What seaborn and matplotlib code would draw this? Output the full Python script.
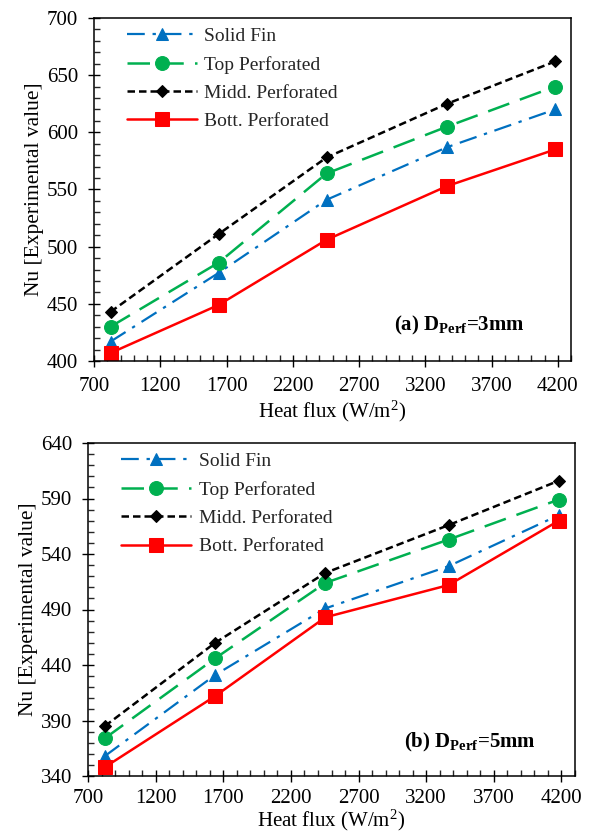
import matplotlib
matplotlib.use("Agg")
import matplotlib.pyplot as plt
from matplotlib.ticker import MultipleLocator
import seaborn as sns
import pandas as pd

# Heat flux levels (W/m^2)
heat_flux = [825, 1640, 2455, 3365, 4180]

# (a) perforation diameter 3 mm
nu_3mm_solid = [417, 477, 541, 587, 620]
nu_3mm_top = [430, 486, 564, 605, 640]
nu_3mm_midd = [443, 511, 578, 625, 662]
nu_3mm_bott = [407, 449, 506, 553, 585]

# (b) perforation diameter 5 mm
nu_5mm_solid = [358, 431, 491, 529, 575]
nu_5mm_top = [374, 446, 514, 553, 589]
nu_5mm_midd = [385, 460, 523, 566, 606]
nu_5mm_bott = [348, 412, 483, 512, 570]

series_names = ["Solid Fin", "Top Perforated", "Midd. Perforated", "Bott. Perforated"]
panel_tags = [r"(a) $\mathbf{D_{Perf}}$=3mm", r"(b) $\mathbf{D_{Perf}}$=5mm"]
y_ticks = [list(range(400, 701, 50)), list(range(340, 641, 50))]
x_ticks = list(range(700, 4201, 500))

sns.set_theme(style="white")
plt.rcParams["font.family"] = ["Liberation Serif", "DejaVu Serif"]
plt.rcParams["mathtext.fontset"] = "custom"
plt.rcParams["mathtext.rm"] = "Liberation Serif"
plt.rcParams["mathtext.it"] = "Liberation Serif:italic"
plt.rcParams["mathtext.bf"] = "Liberation Serif:bold"

styles = {
    "Solid Fin": dict(color="#0070C0", marker="^", markersize=8.5, lw=1.6,
                      linestyle=(0, (8, 3.5, 1.5, 3.5))),
    "Top Perforated": dict(color="#00B050", marker="o", markersize=10, lw=1.8,
                           linestyle=(0, (9, 4.5))),
    "Midd. Perforated": dict(color="black", marker="D", markersize=6, lw=1.8,
                             linestyle=(0, (3, 1.6))),
    "Bott. Perforated": dict(color="#FF0000", marker="s", markersize=10, lw=1.8,
                             linestyle="-"),
}

fig = plt.figure(figsize=(5.91, 8.33), dpi=100)
W, H = 591, 833
ax_a = fig.add_axes([94 / W, 1 - 361 / H, (571 - 94) / W, (361 - 18) / H])
ax_b = fig.add_axes([88 / W, 1 - 776 / H, (575 - 88) / W, (776 - 443) / H])

# axes, series values, tag position, x tick pad, x label pad
panels = [
    (ax_a, [nu_3mm_solid, nu_3mm_top, nu_3mm_midd, nu_3mm_bott], (0.904, 0.105), 7, 2),
    (ax_b, [nu_5mm_solid, nu_5mm_top, nu_5mm_midd, nu_5mm_bott], (0.92, 0.102), 5, 0),
]

for idx, (ax, values, tag_pos, xtick_pad, xlab_pad) in enumerate(panels):
    for name, vals in zip(series_names, values):
        df = pd.DataFrame({"q": heat_flux, "nu": vals})
        st = styles[name]
        sns.lineplot(data=df, x="q", y="nu", ax=ax, color=st["color"],
                     marker=st["marker"], markersize=st["markersize"],
                     markeredgecolor=st["color"], linewidth=st["lw"],
                     linestyle=st["linestyle"], label=name)

    ax.set_xlim(700, 4300)
    ax.set_ylim(y_ticks[idx][0], y_ticks[idx][-1])
    ax.set_xticks(x_ticks)
    ax.set_yticks(y_ticks[idx])
    ax.xaxis.set_minor_locator(MultipleLocator(100))
    ax.yaxis.set_minor_locator(MultipleLocator(10))
    ax.tick_params(which="major", direction="inout", length=9, width=1,
                   labelsize=15, color="black", labelcolor="black",
                   bottom=True, left=True, top=False, right=False, pad=7)
    ax.tick_params(axis="x", which="major", pad=xtick_pad)
    ax.tick_params(which="minor", direction="in", length=4, width=1,
                   bottom=True, left=True, top=False, right=False)
    for sp in ax.spines.values():
        sp.set_color("black")
        sp.set_linewidth(1.1)

    ax.set_xlabel(r"Heat flux (W/m$^{2}$)", fontsize=15, color="black", labelpad=xlab_pad)
    ax.set_ylabel("Nu [Experimental value]", fontsize=15.5, color="black", labelpad=2)

    ax.legend(loc="upper left", bbox_to_anchor=(0.04, 1.012), frameon=False,
              fontsize=14, handlelength=3.6, handletextpad=0.4,
              labelspacing=0.55, borderaxespad=0.3)

    ax.text(tag_pos[0], tag_pos[1], panel_tags[idx], transform=ax.transAxes,
            ha="right", va="center", fontsize=15, fontweight="bold", color="black")

fig.savefig("out.png", dpi=100)
